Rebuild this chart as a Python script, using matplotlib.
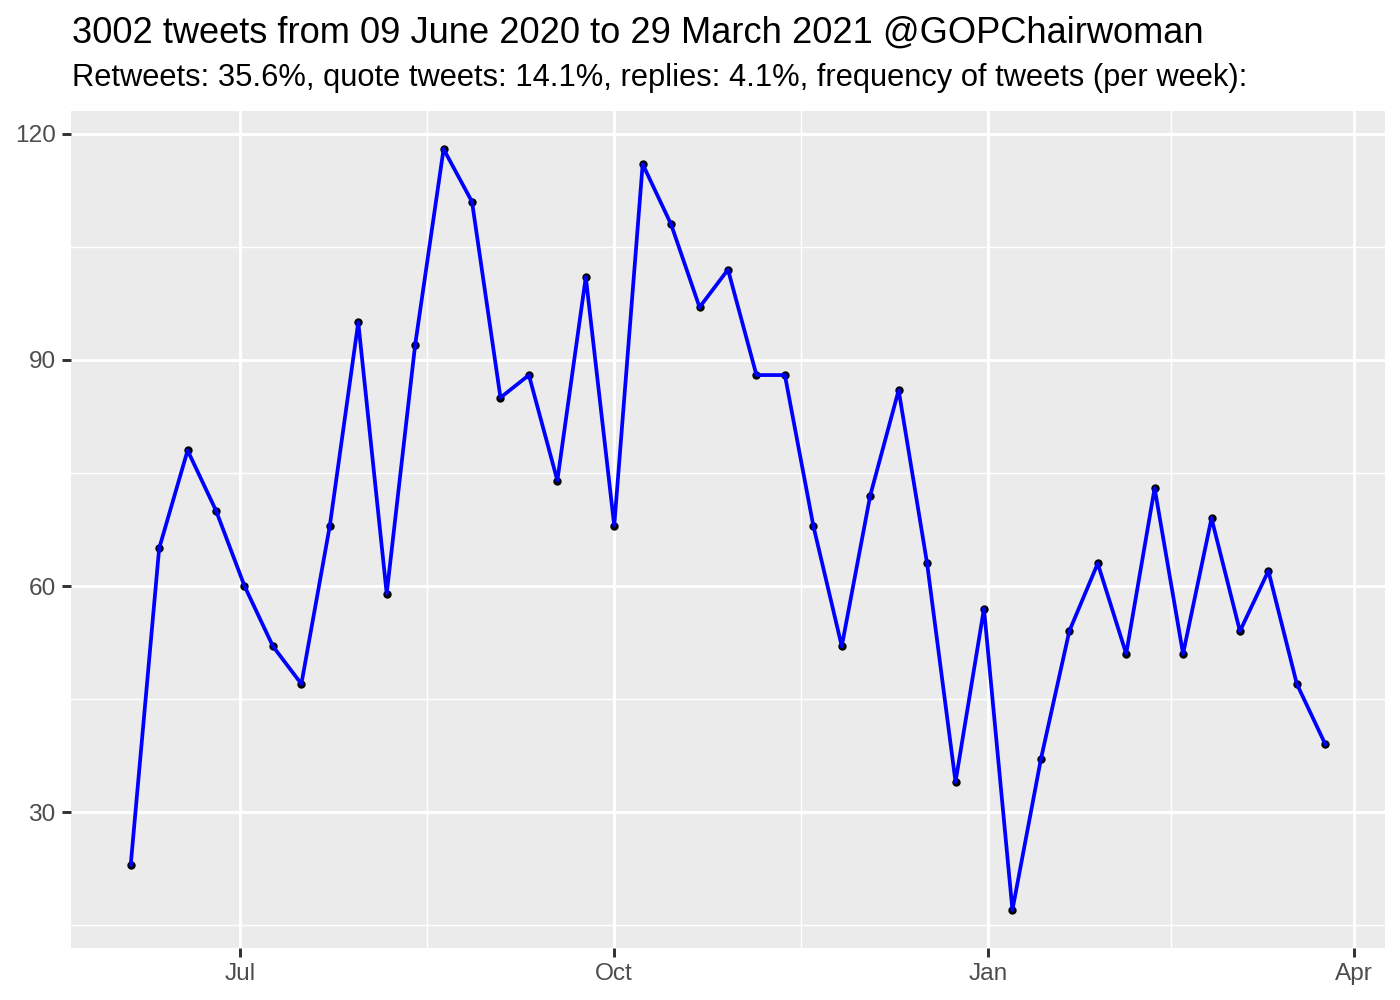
import datetime as dt
import matplotlib
matplotlib.use("Agg")
import matplotlib.pyplot as plt
import matplotlib.dates as mdates

plt.rcParams['font.family'] = ['Liberation Sans', 'DejaVu Sans']

start_week = dt.date(2020, 6, 4)
n_weeks = 43
weeks = [start_week + dt.timedelta(days=7 * i) for i in range(n_weeks)]
counts = [23, 65, 78, 70, 60, 52, 47, 68, 95, 59, 92, 118, 111, 85, 88, 74, 101, 68,
          116, 108, 97, 102, 88, 88, 68, 52, 72, 86, 63, 34, 57, 17, 37, 54, 63, 51,
          73, 51, 69, 54, 62, 47, 39]

title = "3002 tweets from 09 June 2020 to 29 March 2021 @GOPChairwoman"
subtitle = "Retweets: 35.6%, quote tweets: 14.1%, replies: 4.1%, frequency of tweets (per week):"

major_x = [dt.date(2020, 7, 1), dt.date(2020, 10, 1), dt.date(2021, 1, 1), dt.date(2021, 4, 1)]
major_x_labels = ["Jul", "Oct", "Jan", "Apr"]
minor_x = [dt.date(2020, 8, 16), dt.date(2020, 11, 16), dt.date(2021, 2, 15)]
major_y = [30, 60, 90, 120]
minor_y = [15, 45, 75, 105]

fig = plt.figure(figsize=(7, 5), dpi=200)
ax = fig.add_axes([71 / 1400, 1 - 948 / 1000, (1385 - 71) / 1400, (948 - 111) / 1000])
ax.set_facecolor('#EBEBEB')
for s in ax.spines.values():
    s.set_visible(False)

xnum = mdates.date2num(weeks)
ax.plot(xnum, counts, 'o', color='black', markersize=2.0, zorder=3)
ax.plot(xnum, counts, color='#0000FF', linewidth=1.35, zorder=4)

# limits with 5% expansion (ggplot style)
xmin, xmax = min(xnum), max(xnum)
xr = xmax - xmin
ax.set_xlim(xmin - 0.05 * xr, xmax + 0.05 * xr)
ymin, ymax = min(counts), max(counts)
yr = ymax - ymin
ax.set_ylim(ymin - 0.05 * yr, ymax + 0.05 * yr)

ax.set_xticks(mdates.date2num(major_x))
ax.set_xticklabels(major_x_labels)
ax.set_xticks(mdates.date2num(minor_x), minor=True)
ax.set_yticks(major_y)
ax.set_yticks(minor_y, minor=True)

ax.grid(which='major', color='white', linewidth=1.07)
ax.grid(which='minor', color='white', linewidth=0.53)
ax.set_axisbelow(True)

ax.tick_params(which='major', length=3.3, width=1.07, color='#333333',
               labelsize=8.8, labelcolor='#4D4D4D', pad=2.2)
ax.tick_params(which='minor', length=0)

fig.text(72 / 1400, 1 - 43 / 1000, title, fontsize=13.05, color='black',
         ha='left', va='baseline')
fig.text(72 / 1400, 1 - 86 / 1000, subtitle, fontsize=11.14, color='black',
         ha='left', va='baseline')

fig.savefig('out.png', dpi=200, facecolor='white')
